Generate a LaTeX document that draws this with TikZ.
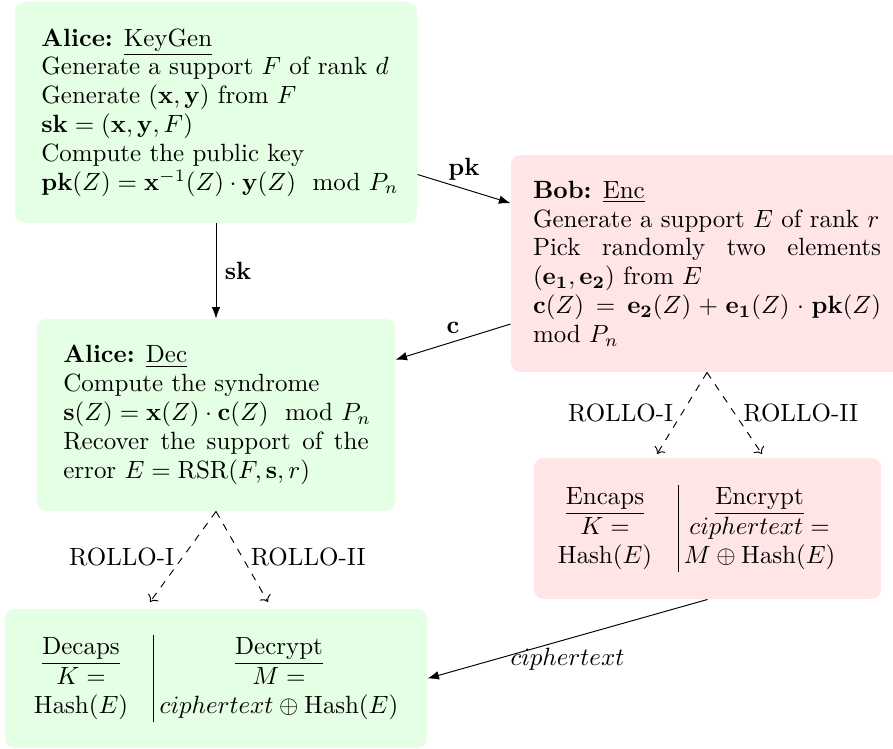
\RequirePackage{fix-cm}
\documentclass[tikz,border=0pt]{standalone}
\usepackage{amsmath}
\usetikzlibrary{arrows.meta}
\newcommand\cola[1]{\makebox[48.8pt]{#1}}
\newcommand\colb[1]{\makebox[56pt]{#1}}
\newcommand\colc[1]{\makebox[92.2pt]{#1}}
\newcommand\modPn{\mkern12mu\mathrm{mod}\,\,P_n}
\begin{document}
\fontsize{10.4pt}{12pt}\selectfont
\begin{tikzpicture}[x=0.41667pt,y=-0.41667pt,
  alicebox/.style={fill=green!10, rounded corners=4pt, anchor=center},
  bobbox/.style={fill=red!10, rounded corners=4pt, anchor=center},
  msg/.style={-{Latex}},
  variant/.style={dashed,->}]
\useasboundingbox (0,0) rectangle (893,749);

\node[alicebox, inner sep=11pt, minimum width=167.5pt, minimum height=91.25pt] (keygen) at (216,112.5)
 {\begin{minipage}{145.5pt}
 \textbf{Alice:} \underline{KeyGen}\\
 Generate a support $F$ of rank $d$\\
 Generate $(\mathbf{x},\mathbf{y})$ from $F$\\
 $\mathbf{sk}=(\mathbf{x},\mathbf{y},F)$\\
 Compute the public key\\
 \mbox{$\mathbf{pk}(Z)=\mathbf{x}^{-1}(Z)\cdot\mathbf{y}(Z)\modPn$}
 \end{minipage}};

\node[bobbox, inner xsep=9.2pt, inner ysep=10pt, minimum width=163.3pt, minimum height=90.4pt] (bob) at (707,263.5)
 {\begin{minipage}{145pt}
 \textbf{Bob:} \underline{Enc}\\
 Generate a support $E$ of rank $r$\\
 Pick randomly two elements\linebreak $(\mathbf{e_1},\mathbf{e_2})$ from $E$\\
 $\mathbf{c}(Z)=\mathbf{e_2}(Z)+\mathbf{e_1}(Z)\cdot\mathbf{pk}(Z)$\linebreak $\mathrm{mod}\,\,P_n$
 \end{minipage}};

\node[alicebox, inner sep=11pt, minimum width=149.2pt, minimum height=80pt] (dec) at (216,415)
 {\begin{minipage}{127.2pt}
 \textbf{Alice:} \underline{Dec}\\
 Compute the syndrome\\
 \mbox{$\mathbf{s}(Z)=\mathbf{x}(Z)\cdot\mathbf{c}(Z)\modPn$}\\
 Recover the support of the\linebreak error $E=\mathrm{RSR}(F,\mathbf{s},r)$
 \end{minipage}};

\node[bobbox, inner sep=0pt, minimum width=144.6pt, minimum height=58.75pt] (encaps) at (707.5,528.5)
 {\makebox[144.6pt][l]{\hspace*{-0.8pt}\begin{tabular}{c|c}
 \cola{\underline{Encaps}} & \colb{\underline{Encrypt}}\\
 \cola{$K=$} & \colb{$ciphertext=$}\\
 \cola{$\mathrm{Hash}(E)$} & \colb{$M\oplus\mathrm{Hash}(E)$}
 \end{tabular}}};

\node[alicebox, inner sep=0pt, minimum width=175.8pt, minimum height=57.9pt] (decaps) at (216,678.5)
 {\makebox[175.8pt][l]{\hspace*{1.25pt}\begin{tabular}{c|c}
 \cola{\underline{Decaps}} & \colc{\underline{Decrypt}}\\
 \cola{$K=$} & \colc{$M=$}\\
 \cola{$\mathrm{Hash}(E)$} & \colc{$ciphertext\oplus\mathrm{Hash}(E)$}
 \end{tabular}}};

\coordinate (e1) at (657,454);
\coordinate (e2) at (762,454);
\coordinate (d1) at (150,602);
\coordinate (d2) at (268,602);

\draw[msg] (keygen) -- node[above] {$\mathbf{pk}$} (bob);
\draw[msg] (keygen) -- node[right] {$\mathbf{sk}$} (dec);
\draw[msg] (bob) -- node[above] {$\mathbf{c}$} (dec);
\draw[msg] (encaps.south) -- node[below] {$ciphertext$} (decaps.east);

\draw[variant] (bob.south) -- node[left] {ROLLO-I} (e1);
\draw[variant] (bob.south) -- node[right] {ROLLO-II} (e2);
\draw[variant] (dec.south) -- node[left] {ROLLO-I} (d1);
\draw[variant] (dec.south) -- node[right] {ROLLO-II} (d2);
\end{tikzpicture}
\end{document}
